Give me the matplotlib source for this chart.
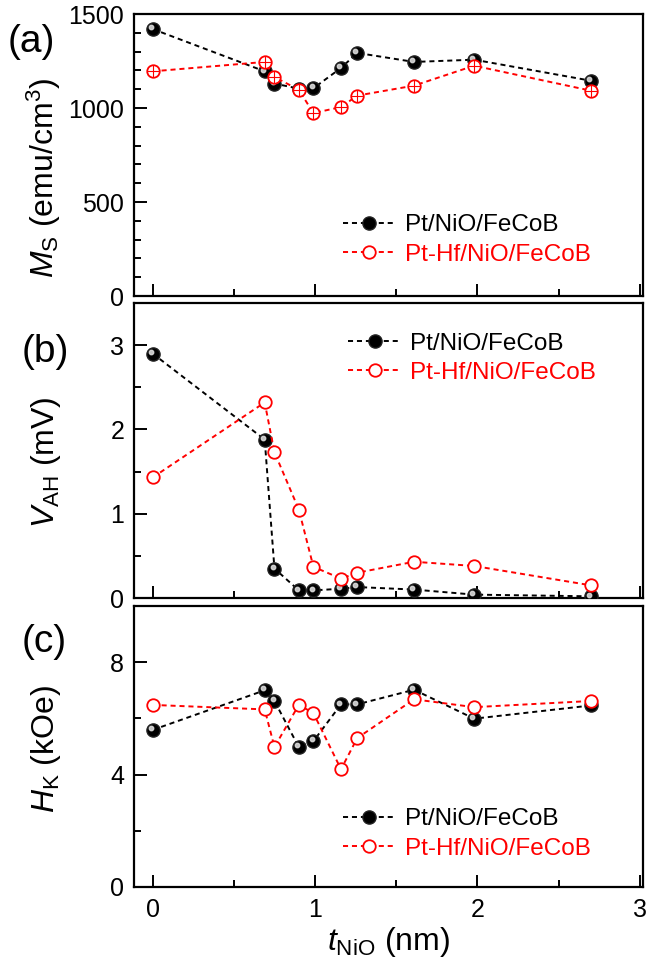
import matplotlib
matplotlib.use("Agg")
import matplotlib.pyplot as plt
import matplotlib.transforms as mtrans
from matplotlib.ticker import MultipleLocator

plt.rcParams['font.family'] = ['Liberation Sans', 'DejaVu Sans']
plt.rcParams['mathtext.fontset'] = 'custom'
plt.rcParams['mathtext.rm'] = 'Liberation Sans'
plt.rcParams['mathtext.it'] = 'Liberation Sans:italic'

# NiO thickness (nm)
t_nio = [0, 0.69, 0.75, 0.90, 0.99, 1.16, 1.26, 1.61, 1.98, 2.70]

# saturation magnetisation (emu/cm^3)
ms_pt = [1420, 1195, 1130, 1103, 1105, 1213, 1293, 1245, 1257, 1145]
ms_pthf = [1195, 1245, 1165, 1097, 973, 1005, 1066, 1119, 1225, 1092]

# anomalous Hall voltage (mV)
vah_pt = [2.90, 1.88, 0.35, 0.09, 0.09, 0.11, 0.13, 0.10, 0.04, 0.02]
vah_pthf = [1.43, 2.32, 1.73, 1.05, 0.37, 0.23, 0.30, 0.43, 0.38, 0.15]

# anisotropy field (kOe)
hk_pt = [5.59, 7.00, 6.62, 4.98, 5.19, 6.50, 6.50, 7.02, 5.99, 6.46]
hk_pthf = [6.48, 6.32, 4.98, 6.48, 6.19, 4.19, 5.30, 6.68, 6.40, 6.62]

lab_pt = 'Pt/NiO/FeCoB'
lab_pthf = 'Pt-Hf/NiO/FeCoB'

fig = plt.figure(figsize=(6.48, 9.67), dpi=100)
W, H = 648, 967


def px_axes(left, top, right, bottom):
    return fig.add_axes([left / W, (H - bottom) / H, (right - left) / W, (bottom - top) / H])


ax_a = px_axes(134, 14, 643, 296)
ax_b = px_axes(134, 303, 643, 598)
ax_c = px_axes(134, 606, 643, 887)

dash = (0, (2.6, 2.0))


def draw(ax, y_pt, y_hf, cross=False):
    l1, = ax.plot(t_nio, y_pt, linestyle=dash, color='black', lw=1.4,
                  marker='o', ms=9.5, mfc='black', mec='#222222', label=lab_pt, zorder=3)
    # little highlight to give the spheres some shine
    hl = mtrans.offset_copy(ax.transData, fig=fig, x=-1.3, y=1.3, units='points')
    ax.plot(t_nio, y_pt, linestyle='none', marker='o', ms=3.2, color='#d8d8d8',
            alpha=0.9, transform=hl, zorder=4)
    l2, = ax.plot(t_nio, y_hf, linestyle=dash, color='red', lw=1.4,
                  marker='o', ms=9, mfc='white', mec='red', mew=1.3, label=lab_pthf, zorder=5)
    if cross:
        ax.plot(t_nio, y_hf, linestyle='none', marker='+', ms=8, mec='red', mew=0.8, zorder=6)
    return l1, l2


draw(ax_a, ms_pt, ms_pthf, cross=True)
draw(ax_b, vah_pt, vah_pthf)
draw(ax_c, hk_pt, hk_pthf)

ax_a.set_ylim(0, 1500)
ax_a.yaxis.set_major_locator(MultipleLocator(500))
ax_a.yaxis.set_minor_locator(MultipleLocator(100))
ax_b.set_ylim(0, 3.5)
ax_b.yaxis.set_major_locator(MultipleLocator(1))
ax_b.yaxis.set_minor_locator(MultipleLocator(0.5))
ax_c.set_ylim(0, 10)
ax_c.yaxis.set_major_locator(MultipleLocator(4))
ax_c.yaxis.set_minor_locator(MultipleLocator(2))

for ax in (ax_a, ax_b, ax_c):
    ax.set_xlim(-0.115, 3.02)
    ax.xaxis.set_major_locator(MultipleLocator(1))
    ax.xaxis.set_minor_locator(MultipleLocator(0.5))
    for s in ax.spines.values():
        s.set_linewidth(1.6)
    ax.tick_params(which='both', direction='in', width=1.4, labelsize=18,
                   top=False, right=False)
    ax.tick_params(which='major', length=9)
    ax.tick_params(which='minor', length=5)
    ax.tick_params(axis='y', pad=7)
    ax.tick_params(axis='x', pad=8)

ax_a.tick_params(labelbottom=False)
ax_b.tick_params(labelbottom=False)

ax_a.set_ylabel(r'$M_{\rm S}$ (emu/cm$^3$)', fontsize=23)
ax_b.set_ylabel(r'$V_{\rm AH}$ (mV)', fontsize=23)
ax_c.set_ylabel(r'$H_{\rm K}$ (kOe)', fontsize=23)
ax_c.set_xlabel(r'$t_{\rm NiO}$ (nm)', fontsize=23, labelpad=2)
ax_a.yaxis.set_label_coords(-0.14, 0.42)
ax_b.yaxis.set_label_coords(-0.14, 0.46)
ax_c.yaxis.set_label_coords(-0.14, 0.49)

leg_kw = dict(frameon=False, fontsize=17.5, handlelength=2.2, handletextpad=0.35,
              labelspacing=0.3, borderpad=0, borderaxespad=0, labelcolor='linecolor')
ax_a.legend(loc='upper left', bbox_to_anchor=(0.41, 0.29), **leg_kw)
ax_b.legend(loc='upper left', bbox_to_anchor=(0.42, 0.9), **leg_kw)
ax_c.legend(loc='upper left', bbox_to_anchor=(0.41, 0.28), **leg_kw)

fig.text(8 / W, 1 - 42 / H, '(a)', fontsize=28, va='center', ha='left')
fig.text(22 / W, 1 - 352 / H, '(b)', fontsize=28, va='center', ha='left')
fig.text(22 / W, 1 - 642 / H, '(c)', fontsize=28, va='center', ha='left')

fig.savefig('out.png', dpi=100)
